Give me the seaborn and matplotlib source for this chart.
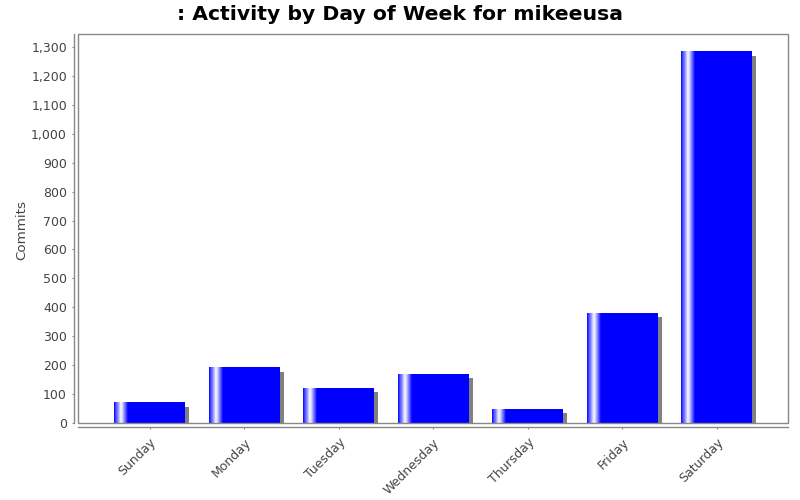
import numpy as np
import matplotlib
matplotlib.use("Agg")
import matplotlib.pyplot as plt
import matplotlib.patheffects as pe
from matplotlib.patches import Rectangle
from matplotlib.ticker import FuncFormatter, MultipleLocator
import seaborn as sns

sns.set_style("white")
plt.rcParams['font.family'] = ['DejaVu Sans']

# data
days = ['Sunday', 'Monday', 'Tuesday', 'Wednesday', 'Thursday', 'Friday', 'Saturday']
commits = [70, 191, 121, 168, 47, 380, 1283]

title = ': Activity by Day of Week for mikeeusa'
ylabel = 'Commits'

bar_color = (0.0, 0.0, 1.0)
axis_gray = '#888888'
label_gray = '#444444'
px = 72 / 100  # one pixel in points at dpi 100

fig = plt.figure(figsize=(8, 5), dpi=100)
fig.patch.set_facecolor('white')
ax = fig.add_axes([78 / 800, 77 / 500, 710 / 800, 389 / 500])

sns.barplot(x=days, y=commits, color=bar_color, saturation=1, width=0.751,
            linewidth=0, ax=ax)

# shadow + gradient highlight on each bar
t = (np.arange(200) + 0.5) / 200
w = np.where(t < 0.1, t / 0.1, np.where(t < 0.2, (0.2 - t) / 0.1, 0.0))
grad = np.array(bar_color)[None, :] * (1 - w[:, None]) + w[:, None]
grad = grad[None, :, :]
for p in list(ax.patches):
    p.set_path_effects([pe.SimplePatchShadow(offset=(4 * px, -4 * px),
                                             shadow_rgbFace=(0.5, 0.5, 0.5), alpha=1.0),
                        pe.Normal()])
    x0, y0 = p.get_x(), p.get_y()
    ax.imshow(grad, extent=[x0, x0 + p.get_width(), y0, y0 + p.get_height()],
              aspect='auto', interpolation='nearest', zorder=p.get_zorder() + 0.1)

ax.set_xlim(-0.757, 6.756)
ax.set_ylim(0, 1345)

# axes: offset axis lines plus a plot outline
for s in ['top', 'right']:
    ax.spines[s].set_visible(False)
for s in ['left', 'bottom']:
    ax.spines[s].set_position(('outward', 4 * px))
    ax.spines[s].set_color(axis_gray)
    ax.spines[s].set_linewidth(1)
ax.add_patch(Rectangle((0, 0), 1, 1, transform=ax.transAxes, fill=False,
                       edgecolor=axis_gray, linewidth=1, clip_on=False, zorder=5))

ax.yaxis.set_major_locator(MultipleLocator(100))
ax.yaxis.set_major_formatter(FuncFormatter(lambda v, _: f'{int(v):,}'))
ax.tick_params(axis='both', length=2 * px, width=0.8, color=axis_gray,
               labelcolor=label_gray, labelsize=9, direction='out',
               bottom=True, left=True)
ax.tick_params(axis='y', pad=5 * px)
ax.tick_params(axis='x', pad=7 * px)

for lab in ax.get_xticklabels():
    lab.set_rotation(45)
    lab.set_ha('right')
    lab.set_va('top')
    lab.set_rotation_mode('anchor')

ax.set_xlabel('')
ax.set_ylabel(ylabel, fontsize=9.7, color=label_gray)
ax.yaxis.set_label_coords(-0.0704, 0.496)

fig.text(0.5, 1 - 14 / 500, title, ha='center', va='center',
         fontsize=14.7, fontweight='bold', color='black')

fig.savefig('out.png', dpi=100)
